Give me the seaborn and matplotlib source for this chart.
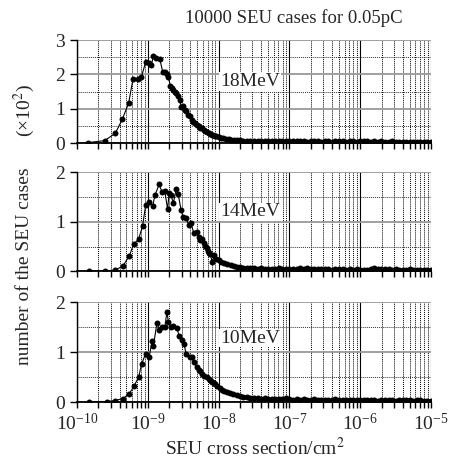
import numpy as np
import pandas as pd
import matplotlib
matplotlib.use("Agg")
import matplotlib.pyplot as plt
import matplotlib.ticker as mticker
import seaborn as sns

# log10 of the SEU cross section (cm^2) and counts (x10^2)
log_x_18 = [-9.85, -9.61, -9.46, -9.36, -9.27, -9.21, -9.145, -9.09, -9.03, -8.99,
            -8.95, -8.92, -8.88, -8.83, -8.79, -8.76, -8.73, -8.71, -8.68, -8.66,
            -8.64, -8.62, -8.60, -8.58, -8.55, -8.53, -8.51, -8.48, -8.46, -8.43,
            -8.41, -8.38, -8.36, -8.33, -8.31, -8.28, -8.26, -8.24, -8.21, -8.19,
            -8.17, -8.14, -8.12, -8.10, -8.08, -8.05, -8.03, -8.00, -7.97, -7.94,
            -7.90, -7.86, -7.82, -7.78, -7.74, -7.70, -7.65, -7.60, -7.55, -7.50,
            -7.45, -7.40, -7.35, -7.30, -7.25, -7.20, -7.15, -7.10, -7.05, -7.00,
            -6.95, -6.90, -6.85, -6.80, -6.75, -6.70, -6.65, -6.60, -6.55, -6.50,
            -6.45, -6.40, -6.35, -6.30, -6.25, -6.20, -6.15, -6.10, -6.05, -6.00,
            -5.95, -5.90, -5.85, -5.80, -5.75, -5.70, -5.65, -5.60, -5.55, -5.50,
            -5.45, -5.40, -5.35, -5.30, -5.25, -5.20, -5.15, -5.10, -5.05, -5.00]
n_18 = [0.01, 0.07, 0.28, 0.69, 1.17, 1.86, 1.87, 1.93, 2.36, 2.32,
        2.27, 2.54, 2.47, 2.44, 2.08, 2.06, 2.00, 1.91, 1.66, 1.60,
        1.54, 1.50, 1.45, 1.38, 1.25, 1.06, 1.08, 0.96, 0.92, 0.82,
        0.78, 0.67, 0.62, 0.58, 0.52, 0.50, 0.44, 0.43, 0.38, 0.35,
        0.33, 0.28, 0.27, 0.24, 0.23, 0.20, 0.19, 0.17, 0.15, 0.14,
        0.12, 0.11, 0.10, 0.09, 0.08, 0.08, 0.07, 0.06, 0.06, 0.05,
        0.06, 0.05, 0.06, 0.07, 0.06, 0.05, 0.06, 0.05, 0.06, 0.05,
        0.05, 0.06, 0.05, 0.05, 0.04, 0.05, 0.06, 0.05, 0.04, 0.05,
        0.05, 0.04, 0.05, 0.06, 0.05, 0.04, 0.05, 0.05, 0.04, 0.05,
        0.06, 0.05, 0.04, 0.05, 0.04, 0.05, 0.04, 0.04, 0.05, 0.04,
        0.04, 0.03, 0.04, 0.04, 0.03, 0.04, 0.03, 0.03, 0.04, 0.03]

log_x_14 = [-9.83, -9.60, -9.46, -9.35, -9.26, -9.20, -9.13, -9.075, -9.03, -8.98,
            -8.93, -8.90, -8.84, -8.80, -8.76, -8.72, -8.70, -8.67, -8.64, -8.60,
            -8.57, -8.53, -8.50, -8.46, -8.42, -8.39, -8.35, -8.31, -8.28, -8.26,
            -8.23, -8.21, -8.19, -8.17, -8.15, -8.14, -8.12, -8.09, -8.06, -8.03,
            -8.00, -7.97, -7.93, -7.88, -7.83, -7.78, -7.74, -7.70, -7.65, -7.60,
            -7.55, -7.50, -7.45, -7.40, -7.35, -7.30, -7.25, -7.20, -7.15, -7.10,
            -7.05, -7.00, -6.95, -6.90, -6.85, -6.80, -6.75, -6.70, -6.65, -6.60,
            -6.55, -6.50, -6.45, -6.40, -6.35, -6.30, -6.25, -6.20, -6.15, -6.10,
            -6.05, -6.00, -5.95, -5.90, -5.85, -5.80, -5.75, -5.70, -5.65, -5.60,
            -5.55, -5.50, -5.45, -5.40, -5.35, -5.30, -5.25, -5.20, -5.15, -5.10,
            -5.05, -5.00]
n_14 = [0.01, 0.01, 0.03, 0.11, 0.32, 0.55, 0.65, 0.91, 1.33, 1.39,
        1.32, 1.53, 1.75, 1.60, 1.61, 1.25, 1.57, 1.53, 1.37, 1.65,
        1.55, 1.23, 1.10, 1.07, 0.93, 0.97, 0.77, 0.80, 0.70, 0.63,
        0.66, 0.57, 0.52, 0.47, 0.42, 0.38, 0.36, 0.19, 0.33, 0.26,
        0.23, 0.20, 0.17, 0.15, 0.13, 0.11, 0.10, 0.09, 0.08, 0.08,
        0.07, 0.07, 0.06, 0.07, 0.06, 0.06, 0.05, 0.06, 0.07, 0.06,
        0.05, 0.06, 0.05, 0.06, 0.07, 0.06, 0.07, 0.06, 0.05, 0.06,
        0.05, 0.06, 0.05, 0.04, 0.05, 0.06, 0.05, 0.04, 0.05, 0.04,
        0.05, 0.04, 0.03, 0.04, 0.05, 0.07, 0.06, 0.05, 0.06, 0.05,
        0.04, 0.05, 0.04, 0.03, 0.04, 0.05, 0.04, 0.03, 0.04, 0.03,
        0.03, 0.03]

log_x_10 = [-9.83, -9.58, -9.46, -9.35, -9.26, -9.19, -9.13, -9.085, -9.03, -8.98,
            -8.94, -8.92, -8.87, -8.84, -8.80, -8.76, -8.73, -8.71, -8.67, -8.64,
            -8.59, -8.56, -8.52, -8.49, -8.46, -8.41, -8.38, -8.35, -8.31, -8.28,
            -8.26, -8.23, -8.20, -8.17, -8.14, -8.11, -8.09, -8.07, -8.05, -8.02,
            -7.98, -7.95, -7.92, -7.88, -7.84, -7.79, -7.74, -7.70, -7.65, -7.60,
            -7.55, -7.50, -7.45, -7.40, -7.35, -7.30, -7.25, -7.20, -7.15, -7.10,
            -7.05, -7.00, -6.95, -6.90, -6.85, -6.80, -6.75, -6.70, -6.65, -6.60,
            -6.55, -6.50, -6.45, -6.40, -6.35, -6.30, -6.25, -6.20, -6.15, -6.10,
            -6.05, -6.00, -5.95, -5.90, -5.85, -5.80, -5.75, -5.70, -5.65, -5.60,
            -5.55, -5.50, -5.45, -5.40, -5.35, -5.30, -5.25, -5.20, -5.15, -5.10,
            -5.05, -5.00]
n_10 = [0.01, 0.01, 0.03, 0.07, 0.17, 0.33, 0.50, 0.77, 0.97, 0.90,
        1.22, 1.13, 1.59, 1.45, 1.50, 1.50, 1.80, 1.61, 1.50, 1.52,
        1.49, 1.33, 1.25, 1.17, 0.97, 0.91, 0.90, 0.80, 0.70, 0.65,
        0.62, 0.56, 0.53, 0.50, 0.47, 0.43, 0.40, 0.38, 0.37, 0.32,
        0.28, 0.25, 0.22, 0.20, 0.18, 0.17, 0.14, 0.13, 0.11, 0.10,
        0.09, 0.09, 0.08, 0.07, 0.08, 0.07, 0.06, 0.07, 0.06, 0.07,
        0.08, 0.06, 0.05, 0.06, 0.05, 0.06, 0.05, 0.05, 0.06, 0.05,
        0.05, 0.04, 0.05, 0.05, 0.06, 0.05, 0.04, 0.05, 0.04, 0.04,
        0.05, 0.04, 0.04, 0.05, 0.04, 0.04, 0.03, 0.04, 0.04, 0.05,
        0.04, 0.03, 0.04, 0.05, 0.04, 0.04, 0.03, 0.05, 0.04, 0.03,
        0.03, 0.03]

panels = [("18MeV", log_x_18, n_18, 3), ("14MeV", log_x_14, n_14, 2), ("10MeV", log_x_10, n_10, 2)]
label_y = [1.79, 1.2, 1.28]
decades = [1e-10, 1e-9, 1e-8, 1e-7, 1e-6, 1e-5]

sns.set_style("white")
plt.rcParams['font.family'] = ['Liberation Serif', 'DejaVu Serif']
plt.rcParams['mathtext.fontset'] = 'stix'

fig = plt.figure(figsize=(4.49, 4.66), dpi=100)
# [left, bottom, width, height] in figure fraction
rects = [[0.1715, 0.6931, 0.7885, 0.2210],
         [0.1715, 0.4174, 0.7885, 0.2135],
         [0.1715, 0.1373, 0.7885, 0.2146]]

for i, (name, lx, n, ymax) in enumerate(panels):
    ax = fig.add_axes(rects[i])
    ax.set_xscale('log')
    df = pd.DataFrame({"x": 10 ** np.array(lx), "n": n})
    sns.lineplot(data=df, x="x", y="n", ax=ax, sort=False, estimator=None,
                 color='black', linewidth=0.8, marker='o', markersize=4.3,
                 markeredgewidth=0)
    ax.set_xlim(1e-10, 1e-5)
    ax.set_ylim(0, ymax)
    ax.xaxis.set_major_locator(mticker.FixedLocator(decades))
    ax.xaxis.set_major_formatter(mticker.LogFormatterSciNotation())
    ax.xaxis.set_minor_locator(mticker.LogLocator(base=10, subs=np.arange(2, 10), numticks=20))
    ax.xaxis.set_minor_formatter(mticker.NullFormatter())
    ax.yaxis.set_major_locator(mticker.MultipleLocator(1))
    ax.yaxis.set_minor_locator(mticker.MultipleLocator(0.5))
    ax.grid(which='major', axis='x', color='black', lw=0.8, ls='-')
    ax.grid(which='minor', axis='x', color='black', lw=0.7, ls=(0, (1, 1)))
    ax.grid(which='major', axis='y', color='#999999', lw=1.3, ls='-')
    ax.grid(which='minor', axis='y', color='#333333', lw=0.7, ls=(0, (1, 1)))
    ax.set_axisbelow(True)
    for s in ['top', 'right']:
        ax.spines[s].set_visible(False)
    ax.spines['left'].set_color('black')
    ax.spines['left'].set_linewidth(1.0)
    ax.spines['bottom'].set_color('black')
    ax.spines['bottom'].set_linewidth(1.3)
    ax.tick_params(axis='x', which='both', direction='out', length=4, width=1,
                   color='black', labelsize=14, bottom=True)
    ax.tick_params(axis='y', which='major', direction='out', length=5, width=1,
                   color='black', labelsize=14, left=True)
    ax.tick_params(axis='y', which='minor', length=0)
    ax.set_xlabel("")
    ax.set_ylabel("")
    if i < 2:
        ax.tick_params(axis='x', which='both', labelbottom=False)
    ax.text(1.05e-8, label_y[i], name, fontsize=14, va='center', ha='left',
            bbox=dict(facecolor='white', edgecolor='none', pad=0.5))

fig.text(0.655, 0.962, "10000 SEU cases for 0.05pC", fontsize=13.5, ha='center', va='center')
fig.text(0.055, 1 - 266 / 466, "number of the SEU cases", fontsize=14, rotation=90,
         ha='center', va='center')
fig.text(0.055, 1 - 111 / 466, "(×10$^2$)", fontsize=14, rotation=90,
         ha='center', va='center')
fig.text(0.568, 1 - 448 / 466, "SEU cross section/cm$^2$", fontsize=14, ha='center', va='center')

fig.savefig("out.png", dpi=100)
